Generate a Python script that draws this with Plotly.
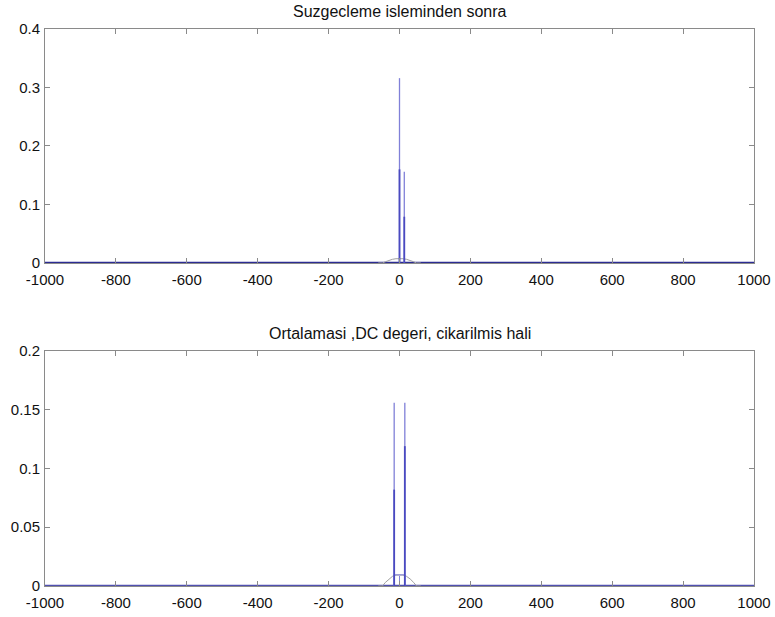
import plotly.graph_objects as go

# ---- data ----
x_range = [-1000, 1000]
x_ticks = [-1000, -800, -600, -400, -200, 0, 200, 400, 600, 800, 1000]

# Top panel: "Suzgecleme isleminden sonra"
top_spike_x = [0, 13.5]
top_spike_hi = [0.316, 0.156]      # thin, lighter part
top_spike_lo = [0.160, 0.079]      # darker lower part
top_bump_x = [-60, -48, -40, -30, -20, -10, 0, 10, 20, 30, 40, 48, 60]
top_bump_y = [0.0, 0.0, 0.002, 0.0045, 0.0062, 0.0072, 0.0075, 0.0072, 0.0062, 0.0045, 0.002, 0.0, 0.0]
top_yticks = [0, 0.1, 0.2, 0.3, 0.4]

# Bottom panel: "Ortalamasi ,DC degeri, cikarilmis hali"
bot_spike_x = [-15, 15]
bot_spike_hi = [0.156, 0.156]
bot_spike_lo = [0.082, 0.119]
bot_mid_x = [-15, -15, 15, 15]
bot_mid_y = [0.0, 0.0095, 0.0095, 0.0]
bot_dc_x = [0, 0]
bot_dc_y = [0, 0.0085]
bot_bump_x = [-60, -48, -40, -30, -20, -10, 0, 10, 20, 30, 40, 48, 60]
bot_bump_y = [0.0, 0.0, 0.003, 0.006, 0.0082, 0.0093, 0.0095, 0.0093, 0.0082, 0.006, 0.003, 0.0, 0.0]
bot_yticks = [0, 0.05, 0.1, 0.15, 0.2]

DARK = "#2c2c92"
MID = "#4a4ac0"
LIGHT = "#8080d8"
GRAY = "#a0a0a0"
FONT = "Arial, Liberation Sans, sans-serif"

fig = go.Figure()


def add_panel(xa, ya, spx, hi, lo, bx, by, base_color, extra=None):
    # baseline
    fig.add_trace(go.Scatter(x=x_range, y=[0, 0], mode="lines",
                             line=dict(color=base_color, width=2.4),
                             xaxis=xa, yaxis=ya, showlegend=False, hoverinfo="skip"))
    # gray bump
    fig.add_trace(go.Scatter(x=bx, y=by, mode="lines",
                             line=dict(color=GRAY, width=1),
                             xaxis=xa, yaxis=ya, showlegend=False, hoverinfo="skip"))
    if extra:
        for ex, ey in extra:
            fig.add_trace(go.Scatter(x=ex, y=ey, mode="lines",
                                     line=dict(color=LIGHT, width=1),
                                     xaxis=xa, yaxis=ya, showlegend=False, hoverinfo="skip"))
    for x, h, l in zip(spx, hi, lo):
        fig.add_trace(go.Scatter(x=[x, x], y=[0, h], mode="lines",
                                 line=dict(color=LIGHT, width=1.3),
                                 xaxis=xa, yaxis=ya, showlegend=False, hoverinfo="skip"))
        fig.add_trace(go.Scatter(x=[x, x], y=[0, l], mode="lines",
                                 line=dict(color=MID, width=1.8),
                                 xaxis=xa, yaxis=ya, showlegend=False, hoverinfo="skip"))


add_panel("x", "y", top_spike_x, top_spike_hi, top_spike_lo, top_bump_x, top_bump_y, DARK)
add_panel("x2", "y2", bot_spike_x, bot_spike_hi, bot_spike_lo, bot_bump_x, bot_bump_y, "#5050b0",
          extra=[(bot_mid_x, bot_mid_y), (bot_dc_x, bot_dc_y)])

axis_common = dict(showgrid=False, zeroline=False, showline=True, linecolor="#8a8a8a",
                   linewidth=1, mirror="ticks", ticks="inside", ticklen=5, automargin=False,
                   tickcolor="#8a8a8a", tickfont=dict(family=FONT, size=15, color="#111111"))


def ticktext(vals):
    return [("%g" % v) for v in vals]


fig.update_layout(
    width=775, height=617,
    margin=dict(l=45, r=21, t=29, b=31),
    paper_bgcolor="white", plot_bgcolor="white",
    xaxis=dict(domain=[0, 1], range=x_range, tickvals=x_ticks, ticktext=ticktext(x_ticks),
               anchor="y", ticklabelstandoff=3, **axis_common),
    yaxis=dict(domain=[0.58, 1], range=[0, 0.4], tickvals=top_yticks,
               ticktext=ticktext(top_yticks), anchor="x", ticklabelstandoff=1, **axis_common),
    xaxis2=dict(domain=[0, 1], range=x_range, tickvals=x_ticks, ticktext=ticktext(x_ticks),
                anchor="y2", ticklabelstandoff=3, **axis_common),
    yaxis2=dict(domain=[0, 0.422], range=[0, 0.2], tickvals=bot_yticks,
                ticktext=ticktext(bot_yticks), anchor="x2", ticklabelstandoff=1, **axis_common),
    annotations=[
        dict(text="Suzgecleme isleminden sonra", x=0.5, y=1, xref="paper", yref="paper",
             xanchor="center", yanchor="bottom", yshift=7, showarrow=False,
             font=dict(family=FONT, size=16, color="#111111")),
        dict(text="Ortalamasi ,DC degeri, cikarilmis hali", x=0.5, y=0.422, xref="paper",
             yref="paper", xanchor="center", yanchor="bottom", yshift=7, showarrow=False,
             font=dict(family=FONT, size=16, color="#111111")),
    ],
)

fig.write_html("out.html")
